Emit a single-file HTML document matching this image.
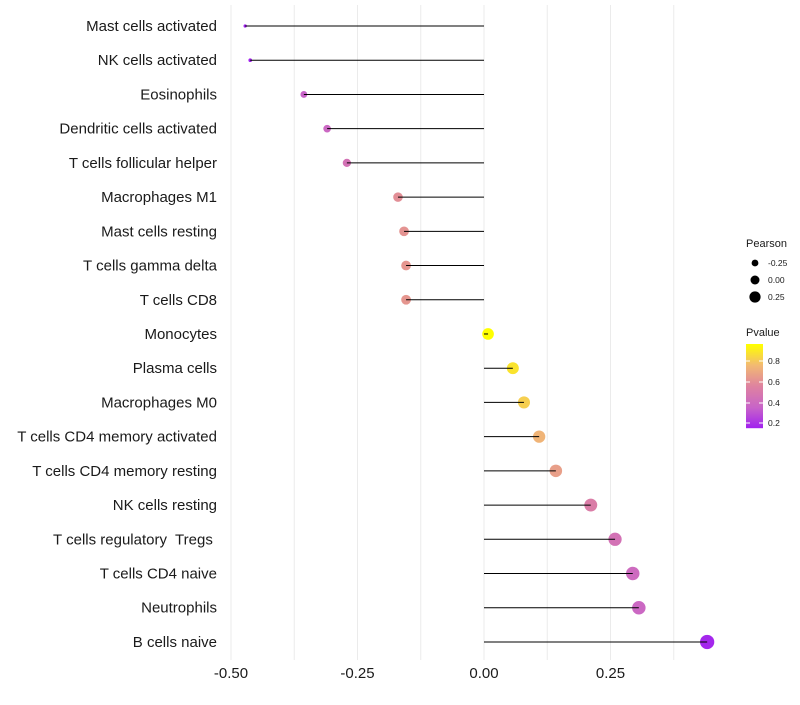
<!DOCTYPE html>
<html><head><meta charset="utf-8"><style>
body{margin:0;background:#fff;font-family:"Liberation Sans",sans-serif}
text{white-space:pre}
</style></head><body>
<svg id="chart" width="800" height="700" xmlns="http://www.w3.org/2000/svg"></svg>
<script>
const categories=["Mast cells activated","NK cells activated","Eosinophils","Dendritic cells activated","T cells follicular helper","Macrophages M1","Mast cells resting","T cells gamma delta","T cells CD8","Monocytes","Plasma cells","Macrophages M0","T cells CD4 memory activated","T cells CD4 memory resting","NK cells resting","T cells regulatory  Tregs ","T cells CD4 naive","Neutrophils","B cells naive"];
const pearson=[-0.472,-0.462,-0.356,-0.310,-0.271,-0.170,-0.158,-0.154,-0.154,0.008,0.057,0.079,0.109,0.142,0.211,0.259,0.294,0.306,0.441];
const pvalue=[0.15,0.16,0.35,0.38,0.45,0.60,0.62,0.63,0.63,0.97,0.88,0.82,0.74,0.66,0.52,0.45,0.40,0.38,0.17];
const xTicks=[-0.5,-0.25,0,0.25];
const xTickLabels=["-0.50","-0.25","0.00","0.25"];
const svg=document.getElementById('chart');
const NS="http://www.w3.org/2000/svg";
function mk(t,a,p){const e=document.createElementNS(NS,t);for(const k in a)e.setAttribute(k,a[k]);(p||svg).appendChild(e);return e;}
const x=v=>484+v*506;
const y=i=>26+i*34.22;
function lerp(a,b,t){return a.map((v,i)=>Math.round(v+(b[i]-v)*t));}
function col(p){const t=Math.max(0,Math.min(1,(p-0.15)/0.81));
 const s=[[160,32,240],[200,100,200],[222,130,160],[242,185,115],[255,255,0]];
 const f=t*4,i=Math.min(3,Math.floor(f));const c=lerp(s[i],s[i+1],f-i);return `rgb(${c})`;}
function rad(v){const kv=[-0.5,-0.45,-0.35,-0.25,0,0.25,0.5],kr=[1.2,2.0,3.5,4.3,5.8,6.6,7.3];
 for(let i=0;i<kv.length-1;i++){if(v<=kv[i+1]){const t=(v-kv[i])/(kv[i+1]-kv[i]);return kr[i]+t*(kr[i+1]-kr[i]);}}return 7.3;}
for(let v=-0.5;v<=0.376;v+=0.125){const g=mk('line',{x1:x(v),x2:x(v),y1:5,y2:660,stroke:'#ebebeb','stroke-width':1});
}
categories.forEach((c,i)=>{
 const t=mk('text',{x:217,y:y(i)+5,'text-anchor':'end','font-size':15,fill:'#1a1a1a'});t.textContent=c;
 
 const d=mk('circle',{cx:x(pearson[i]),cy:y(i),r:rad(pearson[i]),fill:col(pvalue[i])});
 
 const l=mk('line',{x1:x(0),x2:x(pearson[i]),y1:y(i),y2:y(i),stroke:'#000','stroke-width':1});
 
});
xTicks.forEach((v,i)=>{const t=mk('text',{x:x(v),y:678,'text-anchor':'middle','font-size':15,fill:'#1a1a1a'});t.textContent=xTickLabels[i];
 });
const lg=mk('g',{});
mk('text',{x:746,y:247,'font-size':11,fill:'#1a1a1a'},lg).textContent='Pearson';
[[-0.25,263,3.4],[0,280,4.5],[0.25,297,5.6]].forEach(a=>{mk('circle',{cx:755,cy:a[1],r:a[2],fill:'#000'},lg);
 mk('text',{x:768,y:a[1]+3,'font-size':8.5,fill:'#1a1a1a'},lg).textContent=a[0]===0?'0.00':a[0].toFixed(2);});
const cg=mk('g',{});
mk('text',{x:746,y:336,'font-size':11,fill:'#1a1a1a'},cg).textContent='Pvalue';
for(let k=0;k<84;k++){mk('rect',{x:746,y:344+k,width:17,height:1.2,fill:col(0.96-(k/84)*0.81)},cg);}
[[0.8,361],[0.6,382],[0.4,403],[0.2,423]].forEach(a=>{
 mk('line',{x1:746,x2:750,y1:a[1],y2:a[1],stroke:'#fff'},cg);mk('line',{x1:759,x2:763,y1:a[1],y2:a[1],stroke:'#fff'},cg);
 mk('text',{x:768,y:a[1]+3,'font-size':8.5,fill:'#1a1a1a'},cg).textContent=a[0].toFixed(1);});
</script>
</body></html>
